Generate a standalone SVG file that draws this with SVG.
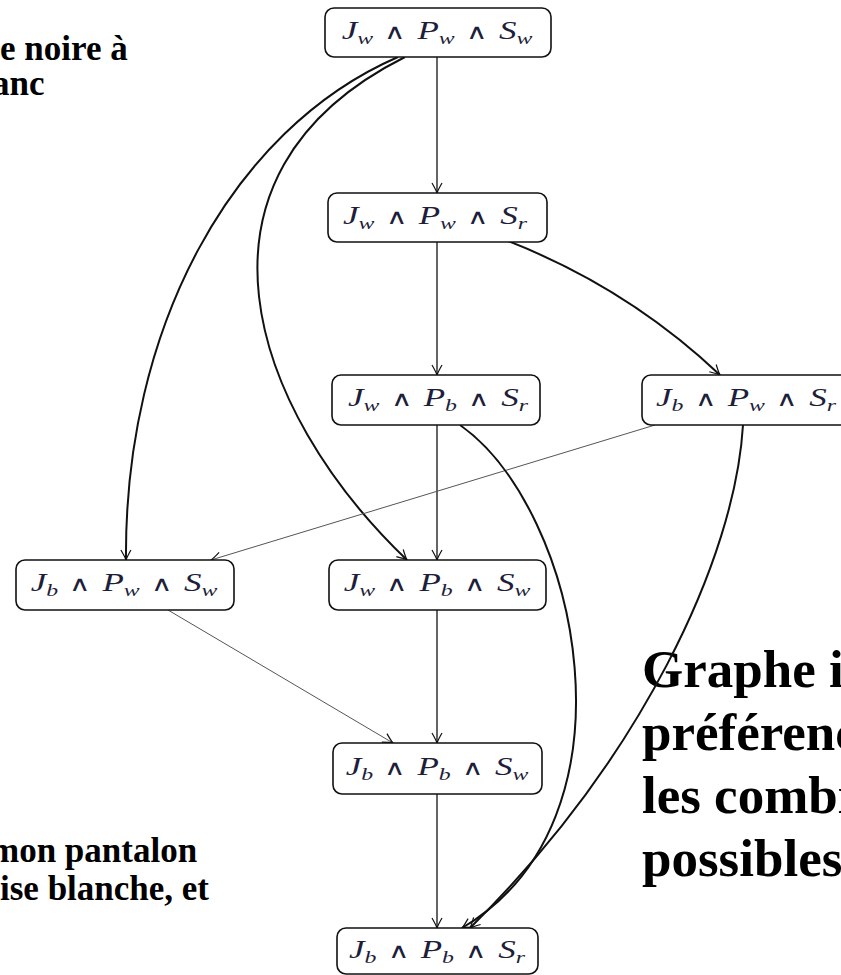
<svg xmlns="http://www.w3.org/2000/svg" width="841" height="975" viewBox="0 0 841 975">
<style>
.box{fill:#fff;stroke:#111;stroke-width:1.6}
.m{font-family:"Liberation Serif","DejaVu Serif",serif;font-style:italic;font-size:25px;fill:#1e1e3a;text-anchor:middle}
.s{font-size:17px}
.op{font-family:"DejaVu Sans",sans-serif;font-style:normal;font-weight:200;font-size:21px}
.big{font-family:"Liberation Serif","Times New Roman",serif;font-weight:bold;fill:#000}
.e{fill:none;stroke:#111;stroke-width:1.3}
.t{stroke-width:2}
.g{stroke:#555;stroke-width:1}
</style>
<defs>
<marker id="a" markerUnits="userSpaceOnUse" markerWidth="16" markerHeight="14" refX="0" refY="0" viewBox="-10 -7 12 14" orient="auto" overflow="visible">
<path d="M-10,-5 Q-3,-1 0,0 Q-3,1 -10,5" fill="none" stroke="#111" stroke-width="1.2"/>
</marker>
</defs>
<rect width="841" height="975" fill="#fff"/>
<g id="texts">
<text class="big" x="0" y="60" font-size="35">e noire à</text>
<text class="big" x="-8" y="95" font-size="35">anc</text>
<text class="big" x="-10" y="862" font-size="35">mon pantalon</text>
<text class="big" x="0" y="900" font-size="35">ise blanche, et</text>
<text class="big" x="642" y="687" font-size="53">Graphe i</text>
<text class="big" x="642" y="750" font-size="53">préférenc</text>
<text class="big" x="642" y="813" font-size="53">les combi</text>
<text class="big" x="642" y="876" font-size="53">possibles</text>
</g>
<g id="edges">
<path class="e" d="M437,57 V193" marker-end="url(#a)"/>
<path class="e" d="M437,242 V375" marker-end="url(#a)"/>
<path class="e" d="M437,425 V560" marker-end="url(#a)"/>
<path class="e" d="M437,610 V743" marker-end="url(#a)"/>
<path class="e" d="M437,794 V928" marker-end="url(#a)"/>
<path class="e t" d="M508,241 Q628,288 720,375" marker-end="url(#a)"/>
<path class="e t" d="M398,57 C230,130 124,330 126,560" marker-end="url(#a)"/>
<path class="e t" d="M405,57 C170,175 250,410 407,560" marker-end="url(#a)"/>
<path class="e g" d="M655,425 L211,560" marker-end="url(#a)"/>
<path class="e g" d="M168,610 L393,743" marker-end="url(#a)"/>
<path class="e t" d="M460,425 C580,510 645,820 462,928" marker-end="url(#a)"/>
<path class="e t" d="M743,425 C735,560 640,760 470,928" marker-end="url(#a)"/>
</g>
<g id="n1"><rect class="box" x="325" y="8" width="226" height="49" rx="9"/>
<text class="m" transform="translate(437,39) scale(1.4,1)">J<tspan class="s" dy="5">w</tspan><tspan class="op" dx="8" dy="-5">∧</tspan><tspan dx="8">P</tspan><tspan class="s" dy="5">w</tspan><tspan class="op" dx="8" dy="-5">∧</tspan><tspan dx="8">S</tspan><tspan class="s" dy="5">w</tspan></text></g>
<g id="n2"><rect class="box" x="328" y="193" width="219" height="49" rx="9"/>
<text class="m" transform="translate(435,224) scale(1.4,1)">J<tspan class="s" dy="5">w</tspan><tspan class="op" dx="8" dy="-5">∧</tspan><tspan dx="8">P</tspan><tspan class="s" dy="5">w</tspan><tspan class="op" dx="8" dy="-5">∧</tspan><tspan dx="8">S</tspan><tspan class="s" dy="5">r</tspan></text></g>
<g id="n3"><rect class="box" x="332" y="375" width="208" height="50" rx="9"/>
<text class="m" transform="translate(438,406) scale(1.4,1)">J<tspan class="s" dy="5">w</tspan><tspan class="op" dx="8" dy="-5">∧</tspan><tspan dx="8">P</tspan><tspan class="s" dy="5">b</tspan><tspan class="op" dx="8" dy="-5">∧</tspan><tspan dx="8">S</tspan><tspan class="s" dy="5">r</tspan></text></g>
<g id="n4"><rect class="box" x="642" y="375" width="215" height="50" rx="9"/>
<text class="m" transform="translate(746,406) scale(1.4,1)">J<tspan class="s" dy="5">b</tspan><tspan class="op" dx="8" dy="-5">∧</tspan><tspan dx="8">P</tspan><tspan class="s" dy="5">w</tspan><tspan class="op" dx="8" dy="-5">∧</tspan><tspan dx="8">S</tspan><tspan class="s" dy="5">r</tspan></text></g>
<g id="n5"><rect class="box" x="16" y="560" width="218" height="50" rx="9"/>
<text class="m" transform="translate(124,591) scale(1.4,1)">J<tspan class="s" dy="5">b</tspan><tspan class="op" dx="8" dy="-5">∧</tspan><tspan dx="8">P</tspan><tspan class="s" dy="5">w</tspan><tspan class="op" dx="8" dy="-5">∧</tspan><tspan dx="8">S</tspan><tspan class="s" dy="5">w</tspan></text></g>
<g id="n6"><rect class="box" x="329" y="560" width="217" height="50" rx="9"/>
<text class="m" transform="translate(437,591) scale(1.4,1)">J<tspan class="s" dy="5">w</tspan><tspan class="op" dx="8" dy="-5">∧</tspan><tspan dx="8">P</tspan><tspan class="s" dy="5">b</tspan><tspan class="op" dx="8" dy="-5">∧</tspan><tspan dx="8">S</tspan><tspan class="s" dy="5">w</tspan></text></g>
<g id="n7"><rect class="box" x="333" y="743" width="209" height="51" rx="9"/>
<text class="m" transform="translate(437,775) scale(1.4,1)">J<tspan class="s" dy="5">b</tspan><tspan class="op" dx="8" dy="-5">∧</tspan><tspan dx="8">P</tspan><tspan class="s" dy="5">b</tspan><tspan class="op" dx="8" dy="-5">∧</tspan><tspan dx="8">S</tspan><tspan class="s" dy="5">w</tspan></text></g>
<g id="n8"><rect class="box" x="337" y="928" width="201" height="46" rx="9"/>
<text class="m" transform="translate(437,958) scale(1.4,1)">J<tspan class="s" dy="5">b</tspan><tspan class="op" dx="8" dy="-5">∧</tspan><tspan dx="8">P</tspan><tspan class="s" dy="5">b</tspan><tspan class="op" dx="8" dy="-5">∧</tspan><tspan dx="8">S</tspan><tspan class="s" dy="5">r</tspan></text></g>
</svg>
